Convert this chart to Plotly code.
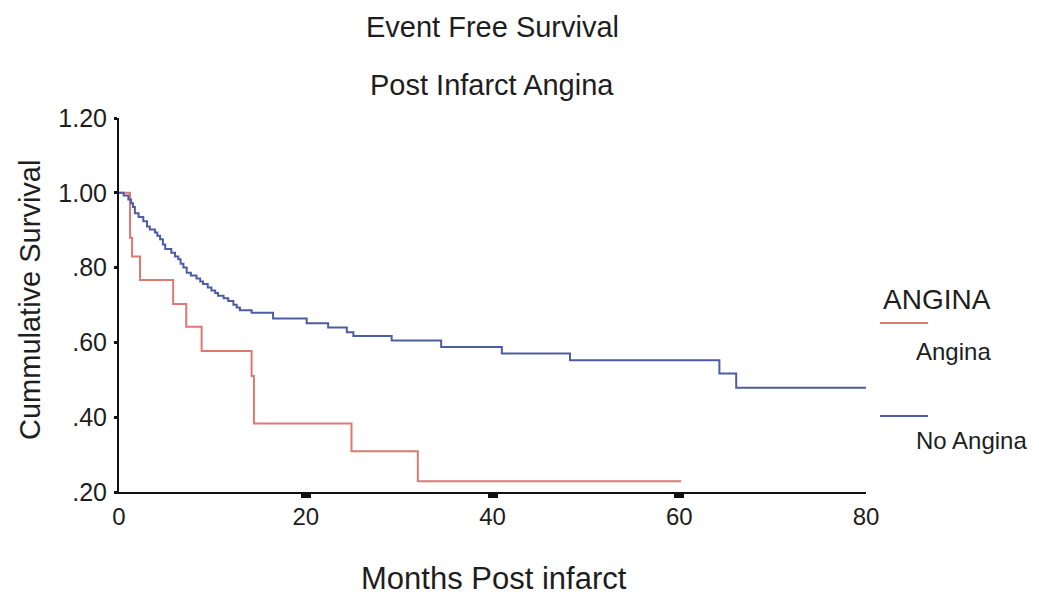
import plotly.graph_objects as go

# Kaplan-Meier step data (months post infarct, cumulative survival)
angina_months = [0, 1.18, 1.4, 2.25, 5.8, 7.2, 8.85, 14.2, 14.45, 24.9, 32.0, 60.2]
angina_surv = [1.0, 0.88, 0.83, 0.767, 0.703, 0.642, 0.577, 0.51, 0.383, 0.309, 0.229, 0.229]

no_angina_months = [0, 0.5, 1.0, 1.3, 1.5, 1.7, 2.1, 2.6, 3.0, 3.3, 3.85, 4.1, 4.4, 4.7,
                    4.95, 5.6, 6.0, 6.35, 6.6, 6.9, 7.25, 7.7, 8.3, 8.7, 9.0, 9.5, 9.9,
                    10.3, 10.6, 11.2, 11.7, 12.25, 12.6, 12.95, 14.2, 16.5, 20.1, 22.4,
                    24.4, 25.1, 29.2, 34.5, 41.0, 48.3, 64.3, 66.1, 80.0]
no_angina_surv = [1.0, 0.993, 0.982, 0.972, 0.962, 0.945, 0.935, 0.924, 0.910, 0.902, 0.894,
                  0.885, 0.876, 0.862, 0.850, 0.840, 0.830, 0.822, 0.810, 0.800, 0.786,
                  0.779, 0.771, 0.763, 0.756, 0.747, 0.739, 0.732, 0.725, 0.718, 0.711,
                  0.701, 0.693, 0.686, 0.679, 0.664, 0.651, 0.640, 0.627, 0.617, 0.605,
                  0.588, 0.570, 0.552, 0.517, 0.479, 0.479]

y_ticks = [0.2, 0.4, 0.6, 0.8, 1.0, 1.2]
y_tick_text = [".20", ".40", ".60", ".80", "1.00", "1.20"]
x_ticks = [0, 20, 40, 60, 80]

RED = "#dc7a72"
BLUE = "#4d5ca3"
FONT = "Liberation Sans, Arial, sans-serif"
INK = "#1e1e1e"

W, H = 1039, 597
ML, MR, MT, MB = 119, 173, 118, 105
PW, PH = W - ML - MR, H - MT - MB


def px(x):
    """Figure pixel column -> paper x fraction (paper spans the plot area)."""
    return (x - ML) / PW


def py(y):
    """Figure pixel row -> paper y fraction."""
    return (H - MB - y) / PH


fig = go.Figure()
fig.add_trace(go.Scatter(x=angina_months, y=angina_surv, mode="lines",
                         line=dict(color=RED, width=2, shape="hv"), name="Angina",
                         showlegend=False))
fig.add_trace(go.Scatter(x=no_angina_months, y=no_angina_surv, mode="lines",
                         line=dict(color=BLUE, width=2, shape="hv"), name="No Angina",
                         showlegend=False))

fig.update_layout(
    width=W, height=H,
    margin=dict(l=ML, r=MR, t=MT, b=MB),
    paper_bgcolor="white", plot_bgcolor="white",
    font=dict(family=FONT, color=INK),
    xaxis=dict(range=[0, 80], tickvals=x_ticks, showgrid=False, zeroline=False,
               showline=True, linecolor="#111", linewidth=2,
               ticks="", ticklabelstandoff=2,
               tickfont=dict(size=24, family=FONT, color=INK),
               minor=dict(tickvals=[20, 40, 60], ticks="outside", ticklen=4,
                          tickwidth=10, tickcolor="#111")),
    yaxis=dict(range=[0.2, 1.2], tickvals=y_ticks, ticktext=y_tick_text,
               showgrid=False, zeroline=False, showline=True, linecolor="#111",
               linewidth=2, ticks="outside", ticklen=3, tickwidth=3, tickcolor="#111",
               ticklabelstandoff=2,
               tickfont=dict(size=25, family=FONT, color=INK)),
)


def label(text, x, y, size, anchor="center", angle=0):
    fig.add_annotation(text=text, xref="paper", x=px(x), yref="paper", y=py(y),
                       xanchor=anchor, yanchor="middle", showarrow=False,
                       textangle=angle, font=dict(size=size, family=FONT, color=INK))


label("Event Free Survival", 492, 27, 29)
label("Post Infarct Angina", 492, 85, 29)
label("Months Post infarct", 494, 578, 31)
label("Cummulative Survival", 30, 300, 29, angle=-90)

# Legend drawn beside the plot area
label("ANGINA", 881, 299, 28, anchor="left")
label("Angina", 914, 351, 24, anchor="left")
label("No Angina", 914, 440, 24, anchor="left")
for color, row in ((RED, 323), (BLUE, 416)):
    fig.add_shape(type="line", xref="paper", yref="paper", x0=px(880), x1=px(928),
                  y0=py(row), y1=py(row), line=dict(color=color, width=2))

fig.write_html("out.html")
